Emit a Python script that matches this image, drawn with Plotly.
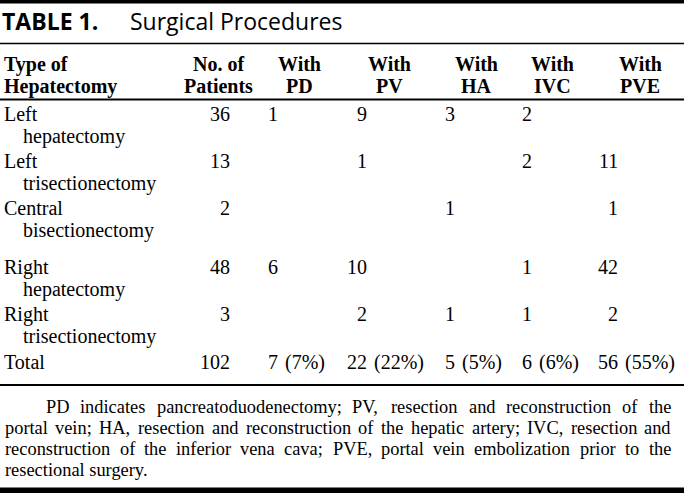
import plotly.graph_objects as go

# ---------------- data ----------------
procedure_first = ["Left", "Left", "Central", "Right", "Right"]
procedure_rest = ["hepatectomy", "trisectionectomy", "bisectionectomy", "hepatectomy", "trisectionectomy"]
patients = [36, 13, 2, 48, 3]
with_pd = [1, None, None, 6, None]
with_pv = [9, 1, None, 10, 2]
with_ha = [3, None, 1, None, 1]
with_ivc = [2, 2, None, 1, 1]
with_pve = [None, 11, 1, 42, 2]
total_label = "Total"
total_counts = [102, 7, 22, 5, 6, 56]
total_pct = [None, "7%", "22%", "5%", "6%", "55%"]
header_top = ["No. of", "With", "With", "With", "With", "With"]
header_bottom = ["Patients", "PD", "PV", "HA", "IVC", "PVE"]
first_header = ["Type of", "Hepatectomy"]
title_bold = "TABLE 1."
title_text = "Surgical Procedures"
footnote_lines = [
    "PD indicates pancreatoduodenectomy; PV, resection and reconstruction of the",
    "portal vein; HA, resection and reconstruction of the hepatic artery; IVC, resection and",
    "reconstruction of the inferior vena cava; PVE, portal vein embolization prior to the",
    "resectional surgery.",
]

# ---------------- layout constants ----------------
W, H = 684, 493
SERIF = "Liberation Serif, Times New Roman, serif"
SANS = "Open Sans, sans-serif"
FS = 20
FN_FS = 18.4
col_right = [232, 280, 369, 457, 534, 620]      # right edge of number column
col_head = [218, 299, 389, 476, 552, 640]       # header centers
row_y = [114, 161, 208, 267, 314]
line_gap = 22
total_y = 362
foot_y = [407, 428, 449, 470]
foot_left = [44, 3, 3, 3]
foot_right = 669

# Times New Roman advance widths (per 1000 em)
TW = {' ': 250, 'a': 444, 'b': 500, 'c': 444, 'd': 500, 'e': 444, 'f': 333, 'g': 500, 'h': 500,
      'i': 278, 'j': 278, 'k': 500, 'l': 278, 'm': 778, 'n': 500, 'o': 500, 'p': 500, 'q': 500,
      'r': 333, 's': 389, 't': 278, 'u': 500, 'v': 500, 'w': 722, 'x': 500, 'y': 500, 'z': 444,
      'A': 722, 'B': 667, 'C': 667, 'D': 722, 'E': 611, 'F': 556, 'G': 722, 'H': 722, 'I': 333,
      'J': 389, 'K': 722, 'L': 611, 'M': 889, 'N': 722, 'O': 722, 'P': 556, 'Q': 722, 'R': 667,
      'S': 556, 'T': 611, 'U': 722, 'V': 722, 'W': 944, 'X': 722, 'Y': 722, 'Z': 611,
      ';': 278, ',': 250, '.': 250, '(': 333, ')': 333, '%': 833}


def tw(s, fs):
    return sum(TW.get(ch, 500) for ch in s) * fs / 1000.0


ann = []


def text(x, y, s, anchor="left", size=FS, family=SERIF):
    ann.append(dict(x=x, y=y, xref="x", yref="y", text=s, showarrow=False,
                    xanchor=anchor, yanchor="middle", align=anchor,
                    font=dict(family=family, size=size, color="#000")))


# title
text(0, 21, "<b>" + title_bold + "</b>", family=SANS, size=23)
text(128, 21, title_text, family=SANS, size=23)

# header
text(2, 64, "<b>" + first_header[0] + "</b>")
text(2, 86, "<b>" + first_header[1] + "</b>")
for cx, t1, t2 in zip(col_head, header_top, header_bottom):
    text(cx, 64, "<b>" + t1 + "</b>", anchor="center")
    text(cx, 86, "<b>" + t2 + "</b>", anchor="center")

# body
columns = [patients, with_pd, with_pv, with_ha, with_ivc, with_pve]
for i in range(len(procedure_first)):
    y = row_y[i]
    text(2, y, procedure_first[i])
    text(21, y + line_gap, procedure_rest[i])
    for c, col in enumerate(columns):
        v = col[i]
        if v is not None:
            text(col_right[c], y, str(v), anchor="right")

# total row
text(2, total_y, total_label)
for c in range(len(total_counts)):
    text(col_right[c], total_y, str(total_counts[c]), anchor="right")
    if total_pct[c]:
        text(col_right[c] + tw(" ", FS) - 2, total_y, "(" + total_pct[c] + ")")

# footnote, justified
for k, line in enumerate(footnote_lines):
    words = line.split(" ")
    left = foot_left[k]
    y = foot_y[k]
    if k < len(footnote_lines) - 1:
        widths = [tw(w, FN_FS) for w in words]
        gap = (foot_right - left - sum(widths)) / (len(words) - 1)
        x = left
        for w, wd in zip(words, widths):
            text(x, y, w, size=FN_FS)
            x += wd + gap
    else:
        text(left, y, line, size=FN_FS)

shapes = [
    dict(type="rect", x0=0, x1=W, y0=0, y1=3.5, fillcolor="#000", line=dict(width=0)),
    dict(type="line", x0=0, x1=W, y0=43.5, y1=43.5, line=dict(color="#000", width=1.5)),
    dict(type="line", x0=0, x1=W, y0=99.5, y1=99.5, line=dict(color="#000", width=2)),
    dict(type="line", x0=0, x1=W, y0=385, y1=385, line=dict(color="#000", width=2)),
    dict(type="rect", x0=0, x1=W, y0=487.5, y1=H, fillcolor="#000", line=dict(width=0)),
]

fig = go.Figure(go.Scatter(x=[], y=[]))
fig.update_layout(
    width=W, height=H, margin=dict(l=0, r=0, t=0, b=0),
    paper_bgcolor="white", plot_bgcolor="white", showlegend=False,
    xaxis=dict(range=[0, W], visible=False, fixedrange=True),
    yaxis=dict(range=[H, 0], visible=False, fixedrange=True),
    annotations=ann, shapes=shapes,
)
fig.write_html(
    "out.html",
    config={"displayModeBar": False},
    post_script="document.body.style.margin='0';document.body.style.overflow='hidden';",
)
